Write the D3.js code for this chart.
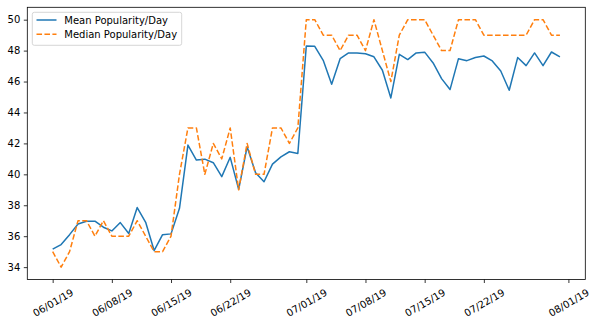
<!DOCTYPE html>
<html>
<head>
<meta charset="utf-8">
<script src="https://cdn.jsdelivr.net/npm/d3@7"></script>
<style>
  html, body { margin: 0; padding: 0; background: #fff; }
  svg { display: block; }
  text { font-family: "DejaVu Sans", sans-serif; }
</style>
</head>
<body>
<svg id="chart" width="596" height="324"></svg>
<script>
// ---- data ----
const startDate = "2019-06-01";
const endDate = "2019-07-31";
const meanPopularity = [
  35.16, 35.46, 36.10, 36.79, 36.97, 36.97, 36.58, 36.34, 36.88, 36.17,
  37.85, 36.90, 35.07, 36.10, 36.15, 37.80, 41.89, 40.92, 40.98, 40.75,
  39.85, 41.10, 39.03, 41.78, 40.10, 39.52, 40.66, 41.13, 41.46, 41.35,
  48.30, 48.28, 47.37, 45.83, 47.48, 47.85, 47.85, 47.80, 47.60, 46.73,
  44.94, 47.76, 47.42, 47.85, 47.90, 47.20, 46.19, 45.48, 47.48, 47.35,
  47.55, 47.65, 47.33, 46.68, 45.44, 47.55, 47.03, 47.85, 47.03, 47.91,
  47.59
];
const medianPopularity = [
  35, 34, 35, 37, 37, 36, 37, 36, 36, 36,
  37, 36, 35, 35, 36, 40, 43, 43, 40, 42,
  41, 43, 39, 42, 40, 40, 43, 43, 42, 43,
  50, 50, 49, 49, 48, 49, 49, 48, 50, 48,
  46, 49, 50, 50, 50, 49, 48, 48, 50, 50,
  50, 49, 49, 49, 49, 49, 49, 50, 50, 49,
  49
];
const seriesNames = ["Mean Popularity/Day", "Median Popularity/Day"];
const xTickDates = ["2019-06-01", "2019-06-08", "2019-06-15", "2019-06-22", "2019-07-01",
                    "2019-07-08", "2019-07-15", "2019-07-22", "2019-08-01"];
const yTickValues = [34, 36, 38, 40, 42, 44, 46, 48, 50];

// ---- layout ----
const W = 596, H = 324;
const plot = { left: 27.3, right: 585.3, top: 7.3, bottom: 279.5 };
const colors = ["#1f77b4", "#ff7f0e"];

const parse = d3.utcParse("%Y-%m-%d");
const dates = d3.utcDay.range(parse(startDate), d3.utcDay.offset(parse(endDate), 1));

const x = d3.scaleUtc()
  .domain([d3.utcDay.offset(dates[0], -3), d3.utcDay.offset(dates[dates.length - 1], 3)])
  .range([plot.left, plot.right]);
const y = d3.scaleLinear()
  .domain([33.2, 50.8])
  .range([plot.bottom, plot.top]);

const svg = d3.select("#chart");

// lines
const series = [meanPopularity, medianPopularity];
const line = d3.line().x((d, i) => x(dates[i])).y(d => y(d));
series.forEach((vals, k) => {
  svg.append("path")
    .datum(vals)
    .attr("d", line)
    .attr("fill", "none")
    .attr("stroke", colors[k])
    .attr("stroke-width", 1.5)
    .attr("stroke-linejoin", "round")
    .attr("stroke-dasharray", k === 1 ? "5.55,2.4" : null);
});

// y axis
const yAxis = svg.append("g")
  .attr("transform", `translate(${plot.left},0)`)
  .call(d3.axisLeft(y).tickValues(yTickValues).tickSize(3.5).tickPadding(3.5).tickFormat(d3.format("d")));
yAxis.select(".domain").remove();
yAxis.selectAll("line").attr("stroke", "#000").attr("stroke-width", 0.8);
yAxis.selectAll("text").attr("font-size", 10).attr("fill", "#000").attr("font-family", "DejaVu Sans");

// x axis
const fmt = d3.utcFormat("%m/%d/%y");
const xAxis = svg.append("g")
  .attr("transform", `translate(0,${plot.bottom})`)
  .call(d3.axisBottom(x).tickValues(xTickDates.map(parse)).tickSize(3.5).tickFormat(fmt));
xAxis.select(".domain").remove();
xAxis.selectAll("line").attr("stroke", "#000").attr("stroke-width", 0.8);
xAxis.selectAll("text").each(function () {
  const t = d3.select(this)
    .attr("font-size", 10).attr("fill", "#000").attr("font-family", "DejaVu Sans")
    .attr("text-anchor", "middle").attr("dy", null);
  const w = this.getComputedTextLength();
  const h = 11.6;
  const vExt = w * 0.5 + h * Math.cos(Math.PI / 6);
  const cy = 7 + vExt / 2;
  t.attr("x", 0).attr("y", cy).attr("dominant-baseline", "central")
   .attr("transform", `rotate(-30,0,${cy})`);
});

// spines
svg.append("rect")
  .attr("x", plot.left).attr("y", plot.top)
  .attr("width", plot.right - plot.left).attr("height", plot.bottom - plot.top)
  .attr("fill", "none").attr("stroke", "#000").attr("stroke-width", 0.8);

// legend
const lg = svg.append("g");
lg.append("rect")
  .attr("x", 32.3).attr("y", 12.3).attr("width", 149.4).attr("height", 33)
  .attr("rx", 2).attr("fill", "#fff").attr("fill-opacity", 0.8)
  .attr("stroke", "#cccccc").attr("stroke-width", 0.8);
seriesNames.forEach((name, k) => {
  const cy = 20 + k * 14.3;
  lg.append("line")
    .attr("x1", 36.5).attr("x2", 56.5).attr("y1", cy).attr("y2", cy)
    .attr("stroke", colors[k]).attr("stroke-width", 1.5)
    .attr("stroke-dasharray", k === 1 ? "5.55,2.4" : null);
  lg.append("text")
    .attr("x", 64.3).attr("y", cy).attr("dominant-baseline", "central")
    .attr("font-size", 10).attr("fill", "#000")
    .text(name);
});
</script>
</body>
</html>
